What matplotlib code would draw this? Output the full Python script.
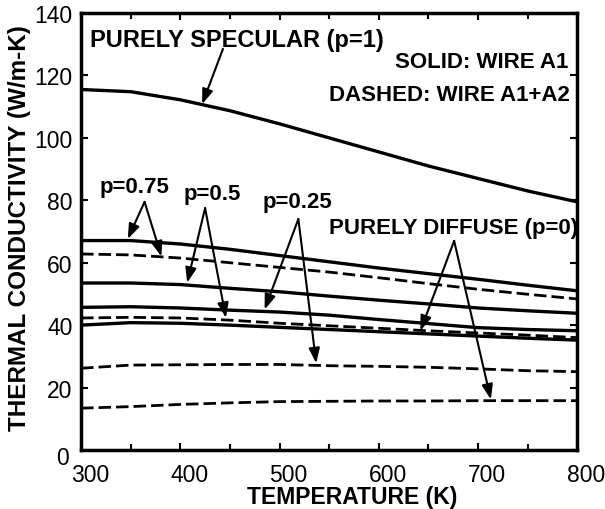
import matplotlib
matplotlib.use("Agg")
import matplotlib.pyplot as plt
import matplotlib.transforms as mtransforms

# ---- data ----
temperature = [300, 350, 400, 450, 500, 550, 600, 650, 700, 750, 800]

specular_solid = [115.5, 114.8, 112.2, 108.7, 104.5, 100.0, 95.5, 91.0, 87.0, 83.0, 79.5]

p075_solid  = [67.1, 67.1, 66.0, 64.3, 62.3, 60.3, 58.3, 56.5, 54.7, 52.8, 51.0]
p075_dashed = [62.8, 62.5, 61.5, 60.0, 58.5, 57.0, 55.2, 53.3, 51.5, 49.9, 48.4]

p05_solid  = [53.5, 53.5, 53.0, 51.8, 50.7, 49.3, 48.0, 46.8, 45.5, 44.6, 43.8]
p05_dashed = [42.3, 42.5, 42.3, 41.6, 40.6, 39.8, 39.0, 38.2, 37.5, 36.8, 36.0]

p025_solid  = [45.7, 45.9, 45.5, 44.8, 44.2, 43.2, 41.8, 40.5, 39.2, 38.6, 38.2]
p025_dashed = [26.2, 27.2, 27.3, 27.4, 27.4, 27.0, 26.8, 26.5, 26.0, 25.4, 25.1]

p0_solid  = [40.0, 40.8, 40.6, 40.0, 39.3, 38.6, 37.9, 37.2, 36.5, 35.8, 35.2]
p0_dashed = [13.4, 13.9, 14.6, 15.1, 15.5, 15.6, 15.7, 15.7, 15.8, 15.8, 15.8]

x_ticks = [300, 400, 500, 600, 700, 800]
y_ticks = [0, 20, 40, 60, 80, 100, 120, 140]

FONT = "Liberation Sans"
plt.rcParams["font.family"] = [FONT, "DejaVu Sans"]

fig = plt.figure(figsize=(6.05, 5.10), dpi=100)
ax = fig.add_axes([0.134, 0.1157, 0.820, 0.8568])

solid_kw = dict(color="black", lw=2.4, solid_capstyle="butt")
dash_kw = dict(color="black", lw=2.0, linestyle=(0, (4.5, 1.8)))

ax.plot(temperature, specular_solid, **solid_kw)
for s in (p075_solid, p05_solid, p025_solid, p0_solid):
    ax.plot(temperature, s, **solid_kw)
for d in (p075_dashed, p05_dashed, p025_dashed, p0_dashed):
    ax.plot(temperature, d, **dash_kw)

ax.set_xlim(300, 800)
ax.set_ylim(0, 140)
ax.set_xticks(x_ticks)
ax.set_yticks(y_ticks)
ax.set_xticks([350, 450, 550, 650, 750], minor=True)
ax.tick_params(which="both", direction="in", top=True, right=True, width=1.5)
ax.tick_params(which="major", length=5, labelsize=16.5, pad=5)
ax.tick_params(axis="y", which="major", pad=6)
ax.tick_params(which="minor", length=4)
# shift tick labels slightly, as in the reference
xoff = mtransforms.ScaledTranslation(9 / 100, -6 / 100, fig.dpi_scale_trans)
for lab in ax.get_xticklabels():
    lab.set_transform(lab.get_transform() + xoff)
yoff = mtransforms.ScaledTranslation(-4 / 100, -5 / 100, fig.dpi_scale_trans)
ax.get_yticklabels()[0].set_transform(ax.get_yticklabels()[0].get_transform() + yoff)

for sp in ax.spines.values():
    sp.set_linewidth(2.5)

ax.set_xlabel("TEMPERATURE (K)", fontweight="bold", fontsize=16.5, va="center")
ax.xaxis.set_label_coords(0.546, -0.106)
ax.set_ylabel("THERMAL CONDUCTIVITY (W/m-K)", fontweight="bold", fontsize=17.5, va="center")
ax.yaxis.set_label_coords(-0.124, 0.51)

txt_kw = dict(fontweight="bold", fontsize=16, color="black")
arrow_kw = dict(arrowstyle="-|>,head_length=0.9,head_width=0.33", color="black", lw=1.5,
                shrinkA=0, shrinkB=0)

# labels
ax.text(309, 131.5, "PURELY SPECULAR (p=1)", ha="left", va="center",
        **{**txt_kw, "fontsize": 17})
ax.text(791, 124.5, "SOLID: WIRE A1", ha="right", va="center", **txt_kw)
ax.text(793, 114.0, "DASHED: WIRE A1+A2", ha="right", va="center", **txt_kw)
ax.text(354, 84.5, "p=0.75", ha="center", va="center", **txt_kw)
ax.text(432, 82.3, "p=0.5", ha="center", va="center", **txt_kw)
ax.text(518, 79.5, "p=0.25", ha="center", va="center", **txt_kw)
ax.text(675, 71.3, "PURELY DIFFUSE (p=0)", ha="center", va="center", **txt_kw)

def arrow(x0, y0, x1, y1):
    ax.annotate("", xy=(x1, y1), xytext=(x0, y0), arrowprops=arrow_kw)

# specular
arrow(443, 128.5, 422, 110.8)
# p=0.75
arrow(364, 79.5, 347, 67.6)
arrow(364, 79.5, 381, 62.0)
# p=0.5
arrow(425, 77.5, 407, 53.6)
arrow(425, 77.5, 446, 42.3)
# p=0.25
arrow(519, 74.0, 485, 45.0)
arrow(519, 74.0, 537, 27.8)
# diffuse
arrow(676, 67.0, 642, 38.2)
arrow(676, 67.0, 713, 16.2)

fig.savefig("out.png", dpi=100)
